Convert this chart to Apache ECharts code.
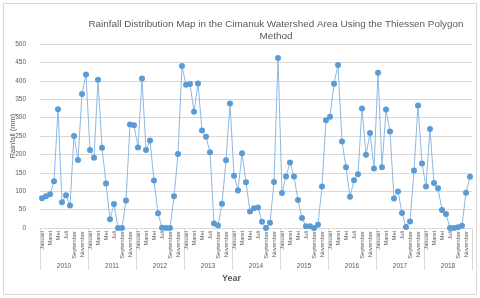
<!DOCTYPE html>
<html>
<head>
<meta charset="utf-8">
<script src="https://cdn.jsdelivr.net/npm/echarts@6/dist/echarts.min.js"></script>
<style>
html,body{margin:0;padding:0;background:#fff;}
#chart{width:480px;height:298px;}
</style>
</head>
<body>
<div id="chart"></div>
<script>
var years = ['2010','2011','2012','2013','2014','2015','2016','2017','2018'];
var months = ['Januari','Februari','Maret','April','Mei','Juni','Juli','Agustus','September','Oktober','November','Desember'];
var rainfall = [
  81, 86, 92, 127, 323, 70, 89, 61, 250, 185, 364, 417,
  212, 191, 403, 218, 121, 24, 65, 0, 0, 75, 281, 279,
  219, 406, 212, 238, 129, 40, 1, 0, 0, 86, 201, 440,
  389, 391, 316, 393, 265, 248, 206, 12, 7, 66, 184, 338,
  142, 102, 203, 124, 45, 54, 56, 17, 0, 14, 125, 462,
  95, 140, 178, 140, 76, 27, 5, 5, 0, 9, 113, 293,
  302, 392, 443, 235, 165, 85, 130, 146, 325, 199, 258, 162,
  422, 165, 322, 262, 80, 99, 41, 3, 18, 156, 333, 175,
  113, 269, 122, 108, 49, 38, 0, 0, 2, 6, 96, 139
];
var titleText = 'Rainfall Distribution Map in the Cimanuk Watershed Area Using the Thiessen Polygon\nMethod';
var yAxisName = 'Rainfall (mm)';
var xAxisName = 'Year';

var monthCats = [];
years.forEach(function(y){ months.forEach(function(m){ monthCats.push(m); }); });

var chart = echarts.init(document.getElementById('chart'));
chart.setOption({
  animation: false,
  backgroundColor: '#fff',
  title: {
    text: titleText,
    left: 271,
    top: 13,
    textAlign: 'center',
    textStyle: {fontFamily: 'Liberation Sans, Arial', fontSize: 9.9, fontWeight: 'normal', color: '#595959', lineHeight: 12}
  },
  graphic: [
    {type: 'rect', shape: {x: 3.5, y: 3.5, width: 473, height: 291}, style: {fill: 'none', stroke: '#d9d9d9', lineWidth: 1}, silent: true, z: -1},
    {type: 'text', left: 222, top: 274, style: {text: xAxisName, fontFamily: 'Liberation Sans, Arial', fontSize: 9, fontWeight: 'bold', fill: '#595959'}}
  ],
  grid: {left: 40, right: 8, top: 44, bottom: 70, outerBoundsMode: 'none', containLabel: false},
  xAxis: [
    {
      type: 'category',
      data: monthCats,
      boundaryGap: true,
      axisLine: {show: true, lineStyle: {color: '#d9d9d9'}},
      axisTick: {show: false},
      axisLabel: {interval: 1, rotate: 90, fontSize: 5.7, margin: 3, color: '#595959', fontFamily: 'Liberation Sans, Arial'}
    },
    {
      type: 'category',
      data: years,
      position: 'bottom',
      boundaryGap: true,
      axisLine: {show: false},
      axisTick: {show: true, interval: 0, length: 42, lineStyle: {color: '#d9d9d9'}},
      axisLabel: {interval: 0, fontSize: 6.5, margin: 35, color: '#595959', fontFamily: 'Liberation Sans, Arial'}
    }
  ],
  yAxis: {
    type: 'value',
    min: 0, max: 500, interval: 50,
    name: yAxisName,
    nameLocation: 'middle',
    nameGap: 23,
    nameMoveOverlap: false,
    nameTextStyle: {fontSize: 7.5, color: '#595959', fontFamily: 'Liberation Sans, Arial'},
    axisLine: {show: false},
    axisTick: {show: false},
    axisLabel: {fontSize: 6.5, color: '#595959', margin: 14, fontFamily: 'Liberation Sans, Arial'},
    splitLine: {lineStyle: {color: '#d9d9d9', width: 1}}
  },
  series: [{
    type: 'line',
    data: rainfall,
    xAxisIndex: 0,
    symbol: 'circle',
    symbolSize: 6,
    showAllSymbol: true,
    itemStyle: {color: '#5B9BD5'},
    lineStyle: {color: '#8DB8E3', width: 1}
  }]
});
</script>
</body>
</html>
